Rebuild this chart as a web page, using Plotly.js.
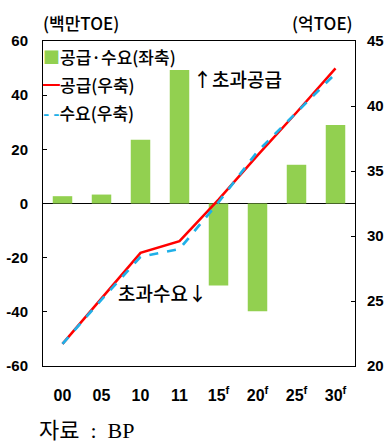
<!DOCTYPE html>
<html>
<head>
<meta charset="utf-8">
<script src="https://cdn.plot.ly/plotly-3.0.1.min.js"></script>
<style>
html,body{margin:0;padding:0;background:#fff;}
#chart{width:386px;height:445px;}
</style>
</head>
<body>
<div id="chart"></div>
<script>
var categories = ['00','05','10','11','15<sup>f</sup>','20<sup>f</sup>','25<sup>f</sup>','30<sup>f</sup>'];
var gapValues = [2.7, 3.3, 23.5, 49.3, -30.3, -39.8, 14.3, 29.0];
var supplyValues = [21.7, 25.2, 28.7, 29.6, 32.8, 36.2, 39.5, 42.9];
var demandValues = [21.7, 25.1, 28.4, 29.0, 32.6, 36.5, 39.5, 42.5];
var leftTicks = [-60, -40, -20, 0, 20, 40, 60];
var rightTicks = [20, 25, 30, 35, 40, 45];
var seriesNames = ['공급·수요(좌축)', '공급(우축)', '수요(우축)'];
var seriesColors = ['#92d050', '#ff0000', '#1fb0e8'];

var numFont = {family: 'Liberation Sans, Arial, sans-serif', size: 15, color: '#000', weight: 'bold'};
var xFont = {family: 'Liberation Sans, Arial, sans-serif', size: 16, color: '#000', weight: 'bold'};
var korFont = 'Noto Sans CJK KR, sans-serif';

var traces = [
  {type: 'bar', x: categories, y: gapValues, name: seriesNames[0], marker: {color: seriesColors[0]}, yaxis: 'y'},
  {type: 'scatter', mode: 'lines', x: categories, y: supplyValues, name: seriesNames[1], line: {color: seriesColors[1], width: 2.5}, yaxis: 'y2'},
  {type: 'scatter', mode: 'lines', x: categories, y: demandValues, name: seriesNames[2], line: {color: seriesColors[2], width: 2.7, dash: 'dash'}, yaxis: 'y2'}
];

function legendItem(sym, color, label, yPaper) {
  return {xref: 'paper', yref: 'paper', x: -0.008, y: yPaper, xanchor: 'left', yanchor: 'middle', showarrow: false,
          text: '<span style="color:' + color + '"><b>' + sym + '</b></span>' + label,
          font: {family: korFont, size: 17, color: '#000', weight: 500}};
}

var layout = {
  width: 386, height: 445,
  margin: {l: 43, r: 31, t: 41, b: 79},
  paper_bgcolor: '#fff', plot_bgcolor: '#fff',
  bargap: 0.5,
  showlegend: false,
  xaxis: {type: 'category', range: [-0.5, 7.5], showline: true, linecolor: '#000', linewidth: 1, mirror: true,
          ticks: '', tickfont: xFont, showgrid: false, zeroline: false, ticklabelstandoff: 15},
  yaxis: {range: [-60, 60], tickvals: leftTicks, ticktext: leftTicks.map(String), ticks: 'inside', ticklen: 4, tickcolor: '#000',
          showline: true, linecolor: '#000', linewidth: 1, showgrid: false, zeroline: true, zerolinecolor: '#000', zerolinewidth: 1,
          tickfont: numFont, ticklabelstandoff: 11},
  yaxis2: {range: [20, 45], tickvals: rightTicks, ticktext: rightTicks.map(String), overlaying: 'y', side: 'right',
           ticks: 'inside', ticklen: 4, tickcolor: '#000', showline: true, linecolor: '#000', linewidth: 1,
           showgrid: false, zeroline: false, tickfont: numFont, ticklabelstandoff: 8},
  annotations: [
    legendItem('■', seriesColors[0], seriesNames[0], 0.952),
    legendItem('━', seriesColors[1], seriesNames[1], 0.866),
    legendItem('- -', seriesColors[2], seriesNames[2], 0.78),
    {xref: 'paper', yref: 'paper', x: -0.005, y: 1.012, xanchor: 'left', yanchor: 'bottom', showarrow: false,
     text: '(백만TOE)', font: {family: korFont, size: 17, color: '#000', weight: 500}},
    {xref: 'paper', yref: 'paper', x: 1.0, y: 1.012, xanchor: 'right', yanchor: 'bottom', showarrow: false,
     text: '(억TOE)', font: {family: korFont, size: 17, color: '#000', weight: 500}},
    {xref: 'x', yref: 'y', x: 3.3, y: 46, xanchor: 'left', yanchor: 'middle', showarrow: false,
     text: '↑초과공급', font: {family: korFont, size: 19, color: '#000', weight: 500}},
    {xref: 'x', yref: 'y', x: 3.75, y: -33, xanchor: 'right', yanchor: 'middle', showarrow: false,
     text: '초과수요↓', font: {family: korFont, size: 19, color: '#000', weight: 500}},
    {xref: 'paper', yref: 'paper', x: -0.02, y: -0.155, xanchor: 'left', yanchor: 'top', showarrow: false,
     text: '자료&nbsp;&nbsp;:&nbsp;&nbsp;BP', font: {family: 'Liberation Serif, Noto Sans CJK KR, serif', size: 22, color: '#000'}}
  ]
};

Plotly.newPlot('chart', traces, layout, {displayModeBar: false, staticPlot: true});
</script>
</body>
</html>
